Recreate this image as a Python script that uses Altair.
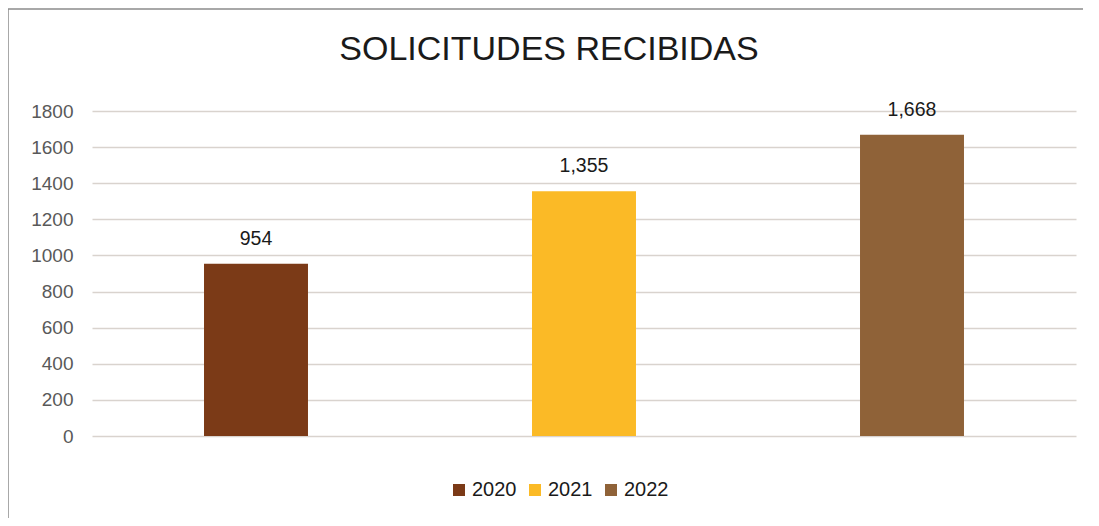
import altair as alt
import pandas as pd

title_text = ["SOLICITUDES RECIBIDAS"]
years = ["2020", "2021", "2022"]
values = [954, 1355, 1668]
labels = ["954", "1,355", "1,668"]
colors = ["#7B3A17", "#FBBA26", "#8F6238"]
y_ticks = [0, 200, 400, 600, 800, 1000, 1200, 1400, 1600, 1800]

df = pd.DataFrame({"year": years, "value": values, "label": labels})
tdf = pd.DataFrame({"t": title_text})

W, H = 984, 325

x_enc = alt.X("year:N", axis=None,
              scale=alt.Scale(paddingInner=0.683, paddingOuter=0.3415))
y_scale = alt.Scale(domain=[0, 1800], nice=False)
y_axis = alt.Axis(values=y_ticks, format="d", grid=True, gridColor="#d9d3ce", gridWidth=1.3,
                  domain=False, ticks=False, labelPadding=19,
                  labelFontSize=19, labelColor="#595959", labelFont="Liberation Sans")

border = alt.Chart(tdf).mark_rect(fill=None, stroke="#8c8c8c", strokeWidth=1.5).encode(
    x=alt.value(-84), x2=alt.value(1200), y=alt.value(-102), y2=alt.value(700)
)

title = alt.Chart(tdf).mark_text(fontSize=34, font="Liberation Sans", color="#1a1a1a",
                                 baseline="middle", align="center").encode(
    x=alt.value(457), y=alt.value(-61), text="t:N"
)

bars = alt.Chart(df).mark_bar().encode(
    x=x_enc,
    y=alt.Y("value:Q", scale=y_scale, title=None, axis=y_axis),
    color=alt.Color("year:N", scale=alt.Scale(domain=years, range=colors),
                    legend=alt.Legend(title=None, orient="none", direction="horizontal",
                                      legendX=357, legendY=369, symbolType="square",
                                      symbolSize=144, symbolStrokeWidth=0, labelFontSize=20,
                                      labelFont="Liberation Sans", labelColor="#1a1a1a",
                                      columnPadding=8, labelOffset=3)),
)

text = alt.Chart(df).mark_text(baseline="middle", dy=-25, fontSize=19.5,
                               font="Liberation Sans", color="#1a1a1a").encode(
    x=x_enc,
    y=alt.Y("value:Q", scale=y_scale, title=None, axis=y_axis),
    text="label:N",
)

chart = alt.layer(border, title, bars, text).properties(
    width=W, height=H,
    padding={"left": 84, "top": 103, "right": 7, "bottom": 82},
    autosize=alt.AutoSizeParams(type="none"),
).configure_view(stroke=None)

chart.save("out.html", embed_options={"renderer": "svg", "actions": False})
